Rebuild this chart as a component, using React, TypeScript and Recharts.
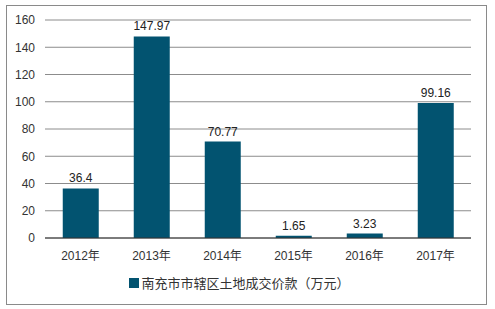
import React from 'react';
import { BarChart, Bar, XAxis, YAxis, CartesianGrid, Legend, LabelList } from 'recharts';

const years = ['2012年', '2013年', '2014年', '2015年', '2016年', '2017年'];
const landValues = [36.4, 147.97, 70.77, 1.65, 3.23, 99.16];
const yTicks = [0, 20, 40, 60, 80, 100, 120, 140, 160];
const seriesName = '南充市市辖区土地成交价款（万元）';

const BAR_COLOR = '#025370';
const FONT = '"Liberation Sans", Arial, "Noto Sans CJK SC", sans-serif';

const data = years.map((year, i) => ({ year, value: landValues[i] }));

const LegendContent = () => (
  <div style={{ display: 'flex', alignItems: 'center', justifyContent: 'center', fontFamily: FONT, fontSize: 13, color: '#333', paddingLeft: 8 }}>
    <span style={{ display: 'inline-block', width: 10, height: 10, background: BAR_COLOR, marginRight: 2 }} />
    <span>{seriesName}</span>
  </div>
);

export default function App() {
  return (
    <div style={{ position: 'absolute', left: 0, top: 0, width: 495, height: 309, background: '#fff', fontFamily: FONT }}>
      <div style={{ position: 'absolute', left: 6, top: 5, width: 479, height: 298, border: '1px solid #8a8a8a' }} />
      <BarChart
        width={495}
        height={309}
        data={data}
        margin={{ top: 20, right: 24, bottom: 16, left: 0 }}
        barCategoryGap="25%"
      >
        <CartesianGrid vertical={false} stroke="#8c8c8c" strokeWidth={1} />
        <XAxis
          dataKey="year"
          axisLine={{ stroke: '#333', strokeWidth: 1 }}
          tickLine={false}
          tickMargin={7}
          height={35}
          tick={{ fill: '#333', fontSize: 12, fontFamily: FONT }}
        />
        <YAxis
          domain={[0, 160]}
          ticks={yTicks}
          width={45}
          axisLine={false}
          tickLine={false}
          tickMargin={4}
          tick={{ fill: '#333', fontSize: 12, fontFamily: FONT }}
        />
        <Legend verticalAlign="bottom" height={20} content={<LegendContent />} />
        <Bar dataKey="value" name={seriesName} fill={BAR_COLOR} isAnimationActive={false}>
          <LabelList dataKey="value" position="top" offset={6} fill="#222" fontSize={12} fontFamily={FONT} />
        </Bar>
      </BarChart>
    </div>
  );
}
